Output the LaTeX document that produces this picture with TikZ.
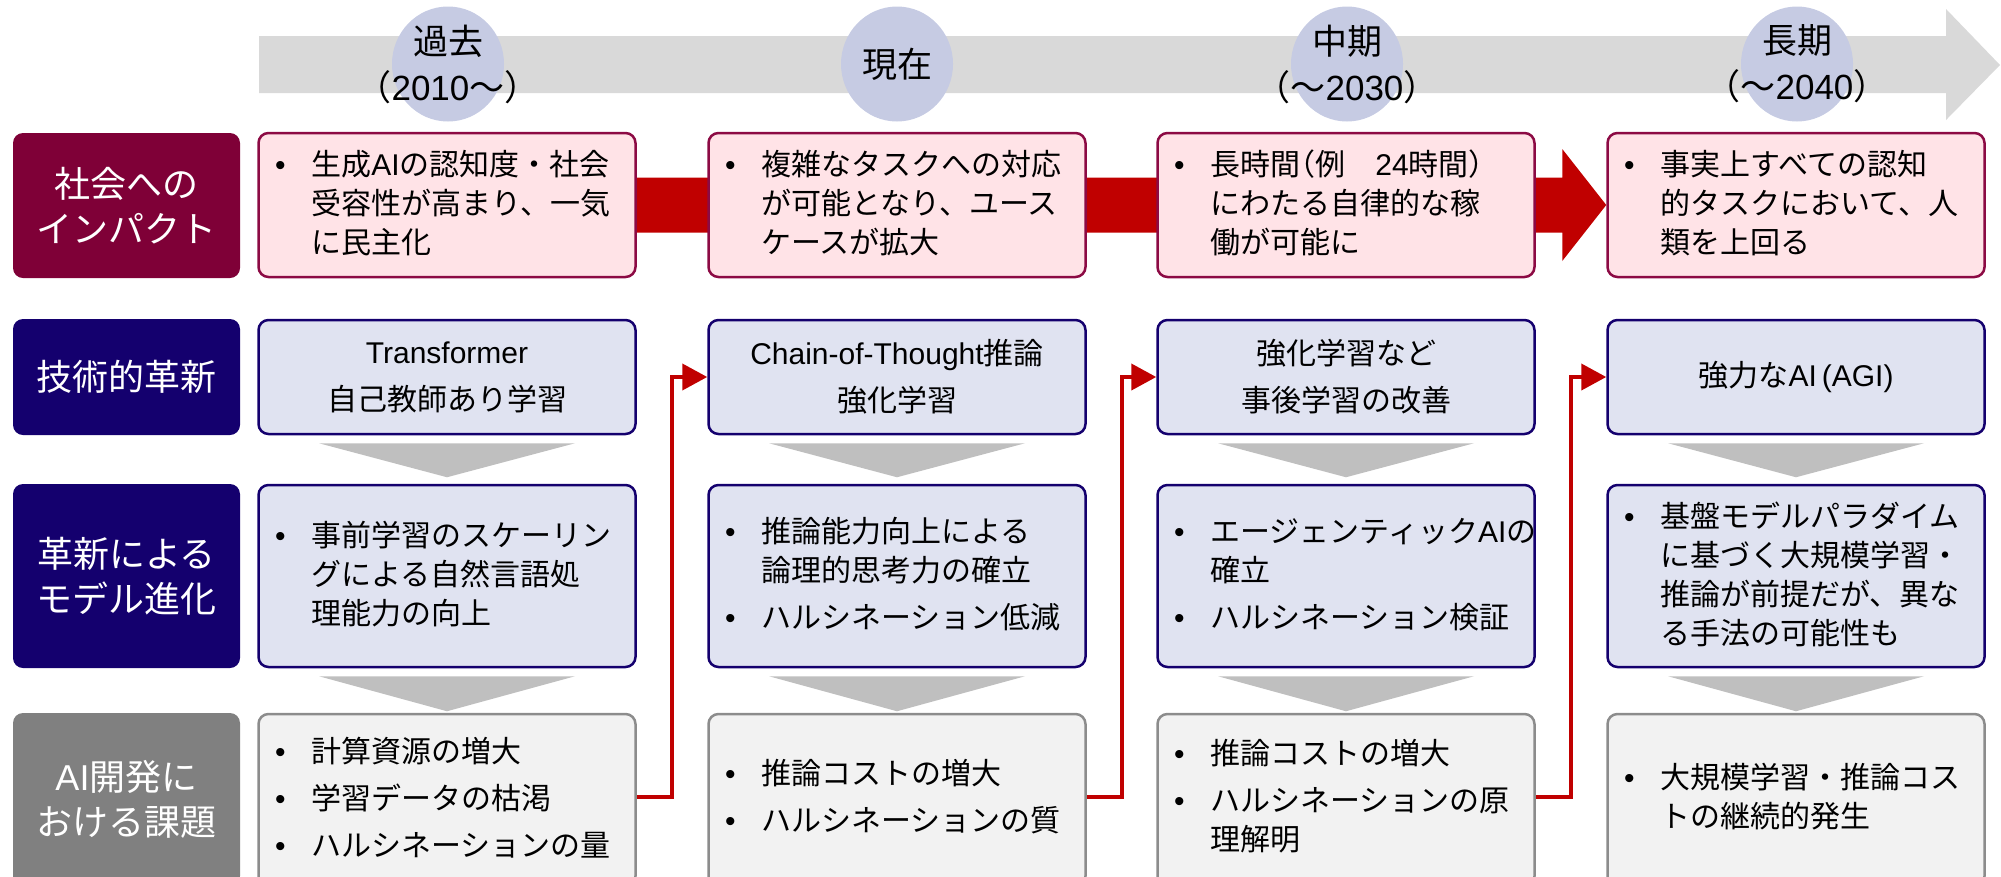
\documentclass[tikz,border=0pt]{standalone}
\usepackage{fontspec}
\setmainfont{Noto Sans CJK JP}
\newfontfamily\lat{Liberation Sans}
\usetikzlibrary{arrows.meta,calc,shapes.geometric}
\pgfdeclarelayer{background}
\pgfsetlayers{background,main}
\definecolor{maroonlab}{HTML}{7F0037}
\definecolor{navylab}{HTML}{14006E}
\definecolor{pinkfill}{HTML}{FFE3E7}
\definecolor{pinkline}{HTML}{8C0A44}
\definecolor{bluefill}{HTML}{E0E3F1}
\definecolor{grayfill}{HTML}{F2F2F2}
\definecolor{grayline}{HTML}{8C8C8C}
\definecolor{labelgray}{HTML}{808080}
\definecolor{timeline}{HTML}{D9D9D9}
\definecolor{chev}{HTML}{BFBFBF}
\definecolor{ellfill}{HTML}{C6CBE3}
\definecolor{arrred}{HTML}{C00000}
\newcommand{\jlp}{\makebox[0.5em][r]{（}}
\newcommand{\jrp}{\makebox[0.5em][l]{）}}
\newcommand{\bu}{\makebox[28pt]{\lat •}}
\begin{document}
\begin{tikzpicture}[x=1pt,y=-1pt,
  rowlabel/.style={rounded corners=10pt, fill=#1, text=white, minimum width=227pt, inner sep=0pt, align=center, font=\fontsize{36}{45}\selectfont},
  cbox/.style n args={2}{rounded corners=10pt, fill=#1, draw=#2, line width=2.5pt, minimum width=377pt, inner sep=0pt},
  bultext/.style={anchor=west, inner sep=0pt, font=\fontsize{30}{39}\selectfont},
  cnttext/.style={inner sep=0pt, align=center, font=\fontsize{30}{47}\selectfont},
  period/.style={ellipse, fill=ellfill, minimum width=112pt, minimum height=115pt, inner sep=0pt},
  periodtext/.style={align=center, inner sep=0pt, font=\fontsize{35}{46}\selectfont},
  chevron/.style={fill=chev},
  redconn/.style={draw=arrred, line width=4pt, -{Triangle[length=25pt,width=26pt]}},
  redband/.style={fill=arrred},
  timebar/.style={fill=timeline}
]
\useasboundingbox (0,0) rectangle (2001,876);
\clip (0,0) rectangle (2001,876);

% timeline arrow
\fill[timebar] (259,36) -- (1946,36) -- (1946,9) -- (2000,65) -- (1946,120) -- (1946,93) -- (259,93) -- cycle;

% period ellipses
\node[period] (p1) at (448,64) {};
\node[period] (p2) at (897,64) {};
\node[period] (p3) at (1347,64) {};
\node[period] (p4) at (1797,64) {};
\node[periodtext] (pt1) at (p1.center) {過去\\\jlp{\lat 2010}～\jrp};
\node[periodtext] (pt2) at (p2.center) {現在};
\node[periodtext] (pt3) at (p3.center) {中期\\\jlp～{\lat 2030}\jrp};
\node[periodtext] (pt4) at (p4.center) {長期\\\jlp～{\lat 2040}\jrp};

% row labels
\node[rowlabel=maroonlab, minimum height=145pt] (l1) at (126.5,205.5) {社会への\\インパクト};
\node[rowlabel=navylab, minimum height=116pt] (l2) at (126.5,377) {技術的革新};
\node[rowlabel=navylab, minimum height=184pt] (l3) at (126.5,576) {革新による\\モデル進化};
\node[rowlabel=labelgray, minimum height=173pt] (l4) at (126.5,799.5) {{\lat AI}開発に\\おける課題};

% content boxes
\foreach \x/\i in {447/1,897/2,1346/3,1796/4}{
  \node[cbox={pinkfill}{pinkline}, minimum height=144pt] (r1c\i) at (\x,205) {};
  \node[cbox={bluefill}{navylab}, minimum height=114pt] (r2c\i) at (\x,377) {};
  \node[cbox={bluefill}{navylab}, minimum height=182pt] (r3c\i) at (\x,576) {};
  \node[cbox={grayfill}{grayline}, minimum height=172pt] (r4c\i) at (\x,800) {};
}

% red band arrow (background)
\begin{pgfonlayer}{background}
\fill[redband] ($(r1c1.east)+(-5,-27.5)$) -- ($(r1c4.west)+(-44,-27.5)$) -- ($(r1c4.west)+(-44,-56)$) -- (r1c4.west) -- ($(r1c4.west)+(-44,56)$) -- ($(r1c4.west)+(-44,27.5)$) -- ($(r1c1.east)+(-5,27.5)$) -- cycle;
\end{pgfonlayer}

% chevrons
\foreach \i in {1,2,3,4}{
  \fill[chevron] ($(r2c\i.south)+(-128,8)$) -- ($(r2c\i.south)+(128,8)$) -- ($(r2c\i.south)+(0,42)$) -- cycle;
  \fill[chevron] ($(r3c\i.south)+(-128,8)$) -- ($(r3c\i.south)+(128,8)$) -- ($(r3c\i.south)+(0,43)$) -- cycle;
}

% row 1 texts
\node[bultext] (t11) at ($(r1c1.west)+(9,2)$) {\begin{tabular}{@{}l@{\hspace{17pt}}l@{}}\bu & 生成{\lat AI}の認知度・社会\\ & 受容性が高まり、一気\\ & に民主化\end{tabular}};
\node[bultext] (t12) at ($(r1c2.west)+(9,2)$) {\begin{tabular}{@{}l@{\hspace{17pt}}l@{}}\bu & 複雑なタスクへの対応\\ & が可能となり、ユース\\ & ケースが拡大\end{tabular}};
\node[bultext] (t13) at ($(r1c3.west)+(9,2)$) {\begin{tabular}{@{}l@{\hspace{17pt}}l@{}}\bu & 長時間\jlp 例　{\lat 24}時間\jrp\\ & にわたる自律的な稼\\ & 働が可能に\end{tabular}};
\node[bultext] (t14) at ($(r1c4.west)+(9,2)$) {\begin{tabular}{@{}l@{\hspace{17pt}}l@{}}\bu & 事実上すべての認知\\ & 的タスクにおいて、人\\ & 類を上回る\end{tabular}};

% row 2 texts
\node[cnttext] (t21) at (r2c1.center) {{\lat Transformer}\\自己教師あり学習};
\node[cnttext] (t22) at (r2c2.center) {{\lat Chain-of-Thought}推論\\強化学習};
\node[cnttext] (t23) at (r2c3.center) {強化学習など\\事後学習の改善};
\node[cnttext] (t24) at (r2c4.center) {強力な{\lat AI\,(AGI)}};

% row 3 texts
\node[bultext] (t31) at ($(r3c1.west)+(9,2)$) {\begin{tabular}{@{}l@{\hspace{17pt}}l@{}}\bu & 事前学習のスケーリン\\ & グによる自然言語処\\ & 理能力の向上\end{tabular}};
\node[bultext] (t32) at ($(r3c2.west)+(9,2)$) {\begin{tabular}{@{}l@{\hspace{17pt}}l@{}}\bu & 推論能力向上による\\ & 論理的思考力の確立\\[8pt]\bu & ハルシネーション低減\end{tabular}};
\node[bultext] (t33) at ($(r3c3.west)+(9,2)$) {\begin{tabular}{@{}l@{\hspace{17pt}}l@{}}\bu & エージェンティック{\lat AI}の\\ & 確立\\[8pt]\bu & ハルシネーション検証\end{tabular}};
\node[bultext] (t34) at ($(r3c4.west)+(9,2)$) {\begin{tabular}{@{}l@{\hspace{17pt}}l@{}}\bu & 基盤モデルパラダイム\\ & に基づく大規模学習・\\ & 推論が前提だが、異な\\ & る手法の可能性も\end{tabular}};

% row 4 texts
\node[bultext] (t41) at ($(r4c1.west)+(9,2)$) {\begin{tabular}{@{}l@{\hspace{17pt}}l@{}}\bu & 計算資源の増大\\[8pt]\bu & 学習データの枯渇\\[8pt]\bu & ハルシネーションの量\end{tabular}};
\node[bultext] (t42) at ($(r4c2.west)+(9,0)$) {\begin{tabular}{@{}l@{\hspace{17pt}}l@{}}\bu & 推論コストの増大\\[8pt]\bu & ハルシネーションの質\end{tabular}};
\node[bultext] (t43) at ($(r4c3.west)+(9,0)$) {\begin{tabular}{@{}l@{\hspace{17pt}}l@{}}\bu & 推論コストの増大\\[8pt]\bu & ハルシネーションの原\\ & 理解明\end{tabular}};
\node[bultext] (t44) at ($(r4c4.west)+(9,0)$) {\begin{tabular}{@{}l@{\hspace{17pt}}l@{}}\bu & 大規模学習・推論コス\\ & トの継続的発生\end{tabular}};

% red connectors
\draw[redconn] ([yshift=3pt]r4c1.east) -- ++(35,0) |- (r2c2.west);
\draw[redconn] ([yshift=3pt]r4c2.east) -- ++(35,0) |- (r2c3.west);
\draw[redconn] ([yshift=3pt]r4c3.east) -- ++(35,0) |- (r2c4.west);
\end{tikzpicture}
\end{document}
